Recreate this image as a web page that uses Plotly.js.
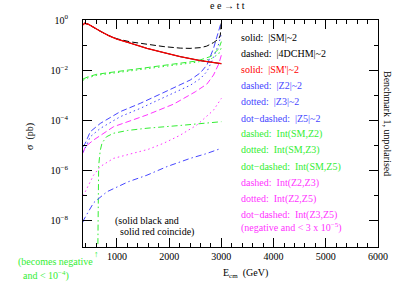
<!DOCTYPE html>
<html>
<head>
<meta charset="utf-8">
<script src="https://cdn.plot.ly/plotly-3.0.1.min.js"></script>
<style>html,body{margin:0;padding:0;background:#fff;}#chart{width:415px;height:286px;}</style>
</head>
<body>
<div id="chart"></div>
<script>
// Energies (GeV) and cross sections (pb)
const eSM = [350, 380, 450, 550, 700, 850, 1000, 1255, 1575, 1900, 2212, 2600, 3000];
const sigSM = [0.63, 0.74, 0.68, 0.50, 0.34, 0.235, 0.174, 0.120, 0.0741, 0.0501, 0.0347, 0.0240, 0.0182];
const sigSMp = [0.63, 0.74, 0.68, 0.50, 0.34, 0.235, 0.174, 0.120, 0.0741, 0.0501, 0.0347, 0.0240, 0.0182];

const e4D = [350, 380, 450, 550, 700, 850, 1000, 1255, 1575, 1900, 2212, 2400, 2600, 2720, 2850, 2950, 2980, 3000];
const sig4D = [0.63, 0.74, 0.68, 0.50, 0.34, 0.235, 0.178, 0.135, 0.107, 0.0871, 0.0759, 0.0741, 0.0794, 0.0912, 0.126, 0.178, 0.251, 0.95];

const eZ2 = [350, 393, 489, 680, 1063, 1446, 1830, 2100, 2404, 2600, 2724, 2850, 2950, 3000];
const sigZ2 = [8.91e-6, 1.23e-5, 3.55e-5, 7.59e-5, 2.24e-4, 4.79e-4, 1.12e-3, 2.0e-3, 4.07e-3, 7.94e-3, 0.0162, 0.0741, 0.339, 0.851];
const sigZ3 = [5.62e-6, 7.94e-6, 2.24e-5, 4.79e-5, 1.41e-4, 3.02e-4, 7.08e-4, 1.26e-3, 2.51e-3, 4.68e-3, 8.91e-3, 0.0316, 0.112, 0.282];

const eZ5 = [350, 360, 552, 810, 1220, 1575, 1958, 2404, 2700, 3000];
const sigZ5 = [8.91e-9, 1.07e-8, 5.25e-8, 1.45e-7, 3.63e-7, 6.61e-7, 1.45e-6, 3.09e-6, 4.68e-6, 7.76e-6];

const eIntSM = [350, 450, 617, 1255, 1893, 2533, 2800, 2950, 3000];
const sigIntSMZ2 = [0.00447, 0.0055, 0.00692, 0.0102, 0.0151, 0.0234, 0.0355, 0.0708, 0.138];
const sigIntSMZ3 = [0.00398, 0.00501, 0.00631, 0.00933, 0.0138, 0.0209, 0.0282, 0.0447, 0.0794];

const eIntSMZ5 = [630, 636, 650, 680, 713, 800, 935, 1200, 1575, 2212, 2600, 3000];
const sigIntSMZ5 = [1e-10, 1.58e-7, 1.58e-6, 6.31e-6, 1.23e-5, 2.24e-5, 3.09e-5, 3.98e-5, 4.90e-5, 6.31e-5, 7.41e-5, 8.91e-5];

const eIntZ2Z3 = [350, 393, 552, 935, 1575, 2086, 2500, 2724, 2850, 2950, 3000];
const sigIntZ2Z3 = [5.01e-6, 8.91e-6, 1.66e-5, 5.62e-5, 1.66e-4, 4.47e-4, 1.38e-3, 2.82e-3, 6.46e-3, 0.0178, 0.0398];

const eIntZ2Z5 = [350, 393, 552, 680, 935, 1255, 1600, 1893, 2200, 2533, 2850, 3000];
const sigIntZ2Z5 = [1.0e-7, 1.45e-7, 6.61e-7, 1.45e-6, 3.09e-6, 4.47e-6, 7.08e-6, 1.23e-5, 2.51e-5, 6.61e-5, 2.57e-4, 7.59e-4];

const yTickVals = [1e-8, 1e-6, 1e-4, 1e-2, 1];
const yTickText = ['10<sup>−8</sup>', '10<sup>−6</sup>', '10<sup>−4</sup>', '10<sup>−2</sup>', '10<sup>0</sup>'];
const yMinorVals = [1e-9, 1e-7, 1e-5, 1e-3, 1e-1];

const legendLines = [
  ['solid:  |SM|~2', 'black'],
  ['dashed:  |4DCHM|~2', 'black'],
  ["solid:  |SM'|~2", 'red'],
  ['dashed:  |Z2|~2', 'blue'],
  ['dotted:  |Z3|~2', 'blue'],
  ['dot−dashed:  |Z5|~2', 'blue'],
  ['dashed:  Int(SM,Z2)', 'green'],
  ['dotted:  Int(SM,Z3)', 'green'],
  ['dot−dashed:  Int(SM,Z5)', 'green'],
  ['dashed:  Int(Z2,Z3)', 'magenta'],
  ['dotted:  Int(Z2,Z5)', 'magenta'],
  ['dot−dashed:  Int(Z3,Z5)', 'magenta'],
  ['(negative and < 3 x 10<sup>−5</sup>)', 'magenta']
];

const COL = {black: '#000000', red: '#ff0000', blue: '#4646ff', green: '#33ee33', magenta: '#ff33ff'};
const DASH = '6px,3px', DOT = '1.5px,3px', DOTDASH = '6px,3px,1.5px,3px';
const F = 'Liberation Serif, Times New Roman, serif';

function tr(x, y, color, dash, w) {
  return {x: x, y: y, type: 'scatter', mode: 'lines', hoverinfo: 'skip',
          line: {color: color, dash: dash, width: w || 1}};
}

const data = [
  tr(eIntZ2Z5, sigIntZ2Z5, COL.magenta, DOT),
  tr(eIntZ2Z3, sigIntZ2Z3, COL.magenta, DASH),
  tr(eIntSMZ5, sigIntSMZ5, COL.green, DOTDASH),
  tr(eIntSM, sigIntSMZ3, COL.green, DOT),
  tr(eIntSM, sigIntSMZ2, COL.green, DASH),
  tr(eZ5, sigZ5, COL.blue, DOTDASH),
  tr(eZ2, sigZ3, COL.blue, DOT),
  tr(eZ2, sigZ2, COL.blue, DASH),
  tr(e4D, sig4D, COL.black, DASH),
  tr(eSM, sigSM, COL.black, 'solid'),
  tr(eSM, sigSMp, COL.red, 'solid', 1.3)
];

const rowY = [37, 53, 69, 85, 101, 118, 134, 150, 167, 183, 199, 215, 227];
const annotations = legendLines.map((l, i) => ({
  xref: 'paper', yref: 'paper', x: (239 - 83) / 295, y: (247 - rowY[i]) / 227,
  xanchor: 'left', yanchor: 'middle', showarrow: false, text: l[0],
  font: {family: F, size: 10, color: COL[l[1]]}
}));

function ann(px, py, text, opts) {
  return Object.assign({xref: 'paper', yref: 'paper', x: (px - 83) / 295, y: (247 - py) / 227,
    xanchor: 'center', yanchor: 'middle', showarrow: false, text: text,
    font: {family: F, size: 10, color: '#000'}}, opts || {});
}

annotations.push(ann(227, 6, 'e e → t t'));
annotations.push(ann(147, 221, '(solid black and'));
annotations.push(ann(157, 232, 'solid red coincide)'));
annotations.push(ann(55, 262, '(becomes negative', {font: {family: F, size: 10, color: COL.green}}));
annotations.push(ann(46, 275, 'and < 10<sup>−4</sup>)', {font: {family: F, size: 10, color: COL.green}}));
annotations.push(ann(96.7, 254, '↑', {font: {family: F, size: 9, color: COL.green}}));
annotations.push(ann(245, 273, 'E<sub>cm</sub>  (GeV)'));
annotations.push(ann(30, 137, 'σ  (pb)', {textangle: -90}));
annotations.push(ann(388, 123, 'Benchmark 1, unpolarised', {textangle: 90}));

const layout = {
  width: 415, height: 286,
  margin: {l: 83, r: 37, t: 20, b: 39, pad: 0},
  paper_bgcolor: '#fff', plot_bgcolor: '#fff',
  showlegend: false,
  font: {family: F, size: 10, color: '#000'},
  xaxis: {
    range: [350, 6000], tickmode: 'linear', tick0: 0, dtick: 1000,
    ticks: 'inside', ticklen: 9, tickcolor: '#000', tickwidth: 1,
    mirror: 'allticks', showline: true, linecolor: '#000', linewidth: 1,
    showgrid: false, zeroline: false,
    tickfont: {family: F, size: 10, color: '#000'},
    minor: {tick0: 0, dtick: 200, ticks: 'inside', ticklen: 4, tickcolor: '#000', showgrid: false}
  },
  yaxis: {
    type: 'log', range: [-9.04, 0], tickmode: 'array', tickvals: yTickVals, ticktext: yTickText,
    ticks: 'inside', ticklen: 9, tickcolor: '#000', tickwidth: 1,
    mirror: 'allticks', showline: true, linecolor: '#000', linewidth: 1,
    showgrid: false, zeroline: false, ticklabelstandoff: 12,
    tickfont: {family: F, size: 10, color: '#000'},
    minor: {tickmode: 'array', tickvals: yMinorVals, ticks: 'inside', ticklen: 4, tickcolor: '#000', showgrid: false}
  },
  annotations: annotations
};

Plotly.newPlot('chart', data, layout, {staticPlot: true, displayModeBar: false});
</script>
</body>
</html>
